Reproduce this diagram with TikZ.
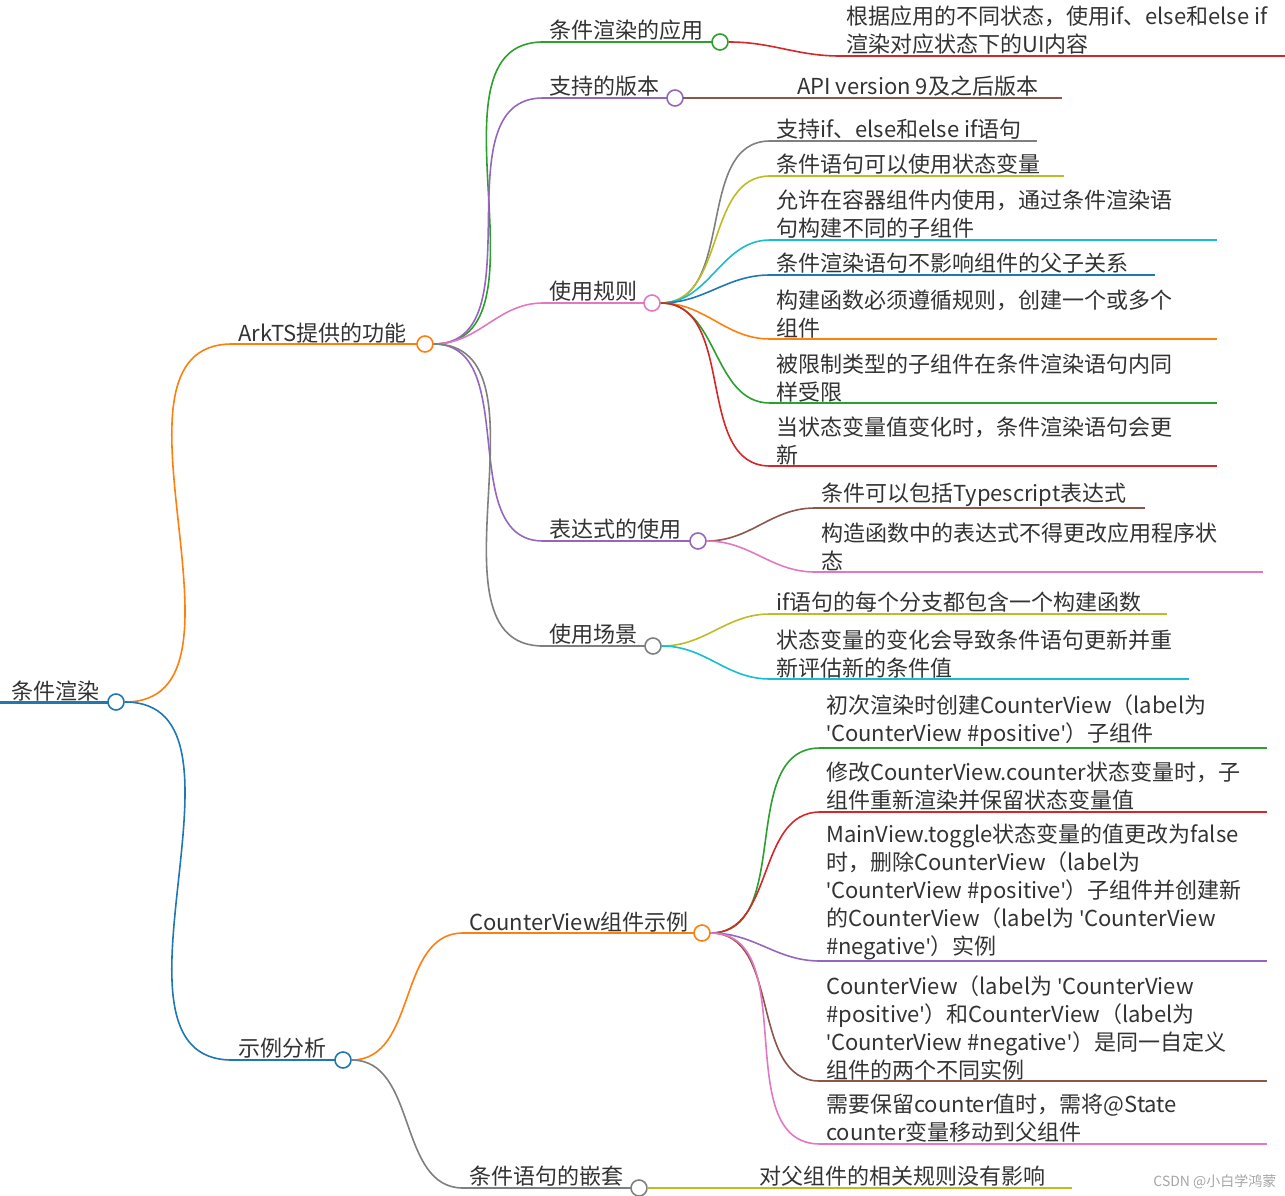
\documentclass[tikz,border=0pt]{standalone}
\usepackage{fontspec}
\setmainfont{Noto Sans CJK SC}
\newfontfamily\latinq{Noto Sans}
\usetikzlibrary{positioning}

\definecolor{cblue}{HTML}{1F77B4}
\definecolor{corange}{HTML}{FF7F0E}
\definecolor{cgreen}{HTML}{2CA02C}
\definecolor{cred}{HTML}{D62728}
\definecolor{cpurple}{HTML}{9467BD}
\definecolor{cbrown}{HTML}{8C564B}
\definecolor{cpink}{HTML}{E377C2}
\definecolor{cgray}{HTML}{7F7F7F}
\definecolor{colive}{HTML}{BCBD22}
\definecolor{ccyan}{HTML}{17BECF}
\definecolor{ctext}{HTML}{333333}

\newcommand\sq{{\latinq\symbol{39}}}

\tikzset{
  label/.style={anchor=south west, inner sep=1pt, align=left, text=ctext,
    font=\fontsize{22}{28}\selectfont},
  knob/.style={circle, draw=#1, fill=white, line width=1.6pt, minimum size=16pt, inner sep=0pt},
  link/.style={draw=#1, line width=1.6pt},
}

% topic: name, x start, x end, y, colour, text  (underline and knob)
\newcommand\topic[6]{%
  \coordinate (#1-in) at (#2,#4);
  \draw[link=#5] (#1-in) -- (#3,#4);
  \node[knob=#5] (#1) at (#3+7,#4) {};
  \node[label] (#1-txt) at (#2+5,#4) {#6};
}
% leaf: name, x start, x end, y, colour, text
\newcommand\leaf[6]{%
  \coordinate (#1-in) at (#2,#4);
  \coordinate (#1-out) at (#3,#4);
  \draw[link=#5] (#1-in) -- (#1-out);
  \node[label] (#1-txt) at (#2+5,#4) {#6};
}
\newcommand\bend[3]{\draw[link=#3] (#1.east) to[out=0,in=180] (#2-in);}

\begin{document}
\begin{tikzpicture}[x=1pt, y=-1pt]
  \useasboundingbox (0,0) rectangle (1285,1196);

  % root
  \draw[cblue, line width=3pt] (0,702) -- (108,702);
  \node[knob=cblue] (root) at (116,702) {};
  \node[label] (root-txt) at (10,702) {条件渲染};

  % first level
  \topic{ark}{232}{418}{344}{corange}{ArkTS提供的功能}
  \topic{demo}{232}{336}{1060}{cblue}{示例分析}
  \bend{root}{ark}{corange}
  \bend{root}{demo}{cblue}

  % ArkTS
  \topic{app}{543}{713}{42}{cgreen}{条件渲染的应用}
  \topic{ver}{543}{668}{98}{cpurple}{支持的版本}
  \topic{rule}{543}{645}{303}{cpink}{使用规则}
  \topic{expr}{543}{691}{541}{cpurple}{表达式的使用}
  \topic{scene}{543}{646}{646}{cgray}{使用场景}
  \foreach \c/\k in {app/cgreen, ver/cpurple, rule/cpink, expr/cpurple, scene/cgray}
    {\bend{ark}{\c}{\k}}

  \leaf{app1}{840}{1285}{56}{cred}{根据应用的不同状态，使用if、else和else if\\渲染对应状态下的UI内容}
  \bend{app}{app1}{cred}
  \coordinate (ver1-in) at (683,98);
  \draw[link=cbrown] (ver1-in) -- (1062,98);
  \node[label] (ver1-txt) at (796,98) {API version 9及之后版本};

  % rules
  \leaf{r1}{770}{1037}{141}{cgray}{支持if、else和else if语句}
  \leaf{r2}{770}{1064}{176}{colive}{条件语句可以使用状态变量}
  \leaf{r3}{770}{1217}{240}{ccyan}{允许在容器组件内使用，通过条件渲染语\\句构建不同的子组件}
  \leaf{r4}{770}{1155}{275}{cblue}{条件渲染语句不影响组件的父子关系}
  \leaf{r5}{770}{1217}{339}{corange}{构建函数必须遵循规则，创建一个或多个\\组件}
  \leaf{r6}{770}{1217}{403}{cgreen}{被限制类型的子组件在条件渲染语句内同\\样受限}
  \leaf{r7}{770}{1217}{466}{cred}{当状态变量值变化时，条件渲染语句会更\\新}
  \foreach \c/\k in {r1/cgray, r2/colive, r3/ccyan, r4/cblue, r5/corange, r6/cgreen, r7/cred}
    {\bend{rule}{\c}{\k}}

  % expressions
  \leaf{e1}{815}{1145}{508}{cbrown}{条件可以包括Typescript表达式}
  \leaf{e2}{815}{1263}{572}{cpink}{构造函数中的表达式不得更改应用程序状\\态}
  \bend{expr}{e1}{cbrown}
  \bend{expr}{e2}{cpink}

  % scenes
  \leaf{s1}{770}{1167}{614}{colive}{if语句的每个分支都包含一个构建函数}
  \leaf{s2}{770}{1189}{679}{ccyan}{状态变量的变化会导致条件语句更新并重\\新评估新的条件值}
  \bend{scene}{s1}{colive}
  \bend{scene}{s2}{ccyan}

  % demo
  \topic{cv}{463}{695}{933}{corange}{CounterView组件示例}
  \topic{nest}{463}{632}{1188}{cgray}{条件语句的嵌套}
  \bend{demo}{cv}{corange}
  \bend{demo}{nest}{cgray}

  \leaf{c1}{820}{1267}{748}{cgreen}{初次渲染时创建CounterView（label为\\\sq CounterView \#positive\sq）子组件}
  \leaf{c2}{820}{1267}{812}{cred}{修改CounterView.counter状态变量时，子\\组件重新渲染并保留状态变量值}
  \leaf{c3}{820}{1267}{961}{cpurple}{MainView.toggle状态变量的值更改为false\\时，删除CounterView（label为\\\sq CounterView \#positive\sq）子组件并创建新\\的CounterView（label为 \sq CounterView\\\#negative\sq）实例}
  \leaf{c4}{820}{1267}{1081}{cbrown}{CounterView（label为 \sq CounterView\\\#positive\sq）和CounterView（label为\\\sq CounterView \#negative\sq）是同一自定义\\组件的两个不同实例}
  \leaf{c5}{820}{1267}{1144}{cpink}{需要保留counter值时，需将@State\\counter变量移动到父组件}
  \foreach \c/\k in {c1/cgreen, c2/cred, c3/cpurple, c4/cbrown, c5/cpink}
    {\bend{cv}{\c}{\k}}

  \coordinate (n1-in) at (647,1188);
  \draw[link=colive] (n1-in) -- (1072,1188);
  \node[label] (n1-txt) at (758,1188) {对父组件的相关规则没有影响};

  \node[anchor=south east, text=cgray!70, font=\fontsize{14}{16}\selectfont] (mark) at (1280,1192) {CSDN @小白学鸿蒙};
\end{tikzpicture}
\end{document}
